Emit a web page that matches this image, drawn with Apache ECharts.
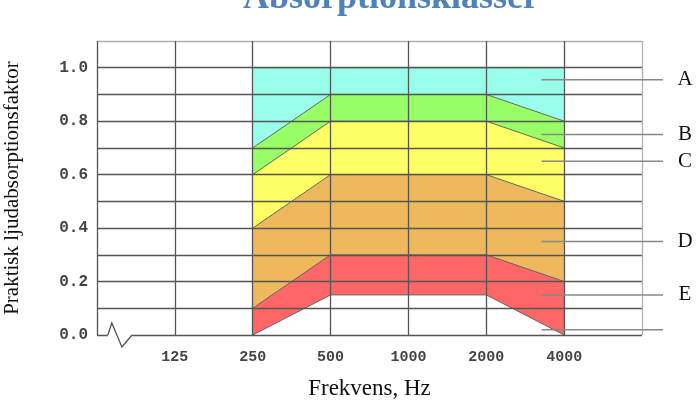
<!DOCTYPE html>
<html>
<head>
<meta charset="utf-8">
<script src="https://cdn.jsdelivr.net/npm/echarts@6/dist/echarts.min.js"></script>
<style>
  html, body { margin: 0; padding: 0; background: #fff; }
  #chart { width: 696px; height: 407px; }
</style>
</head>
<body>
<div id="chart"></div>
<script>
// tick labels along x (positions 0..7, 125 at 1 ... 4000 at 6)
var xTicks = ['', '125', '250', '500', '1000', '2000', '4000', '']
// band boundaries at 250, 500, 1000, 2000, 4000
var bandX = [2, 3, 4, 5, 6]
var eLow = [0, 0.15, 0.15, 0.15, 0]
var eTop = [0.1, 0.3, 0.3, 0.3, 0.2]
var dTop = [0.4, 0.6, 0.6, 0.6, 0.5]
var cTop = [0.6, 0.8, 0.8, 0.8, 0.7]
var bTop = [0.7, 0.9, 0.9, 0.9, 0.8]
var aTop = [1.0, 1.0, 1.0, 1.0, 1.0]
// class labels on the right and where their leader lines point
var classNames = ['A', 'B', 'C', 'D', 'E', '']
var classLevels = [0.955, 0.75, 0.65, 0.35, 0.15, 0.02]

// painted back to front: each band is filled down to 0, the next one covers it
var bands = [
    { name: 'A', hi: aTop, color: '#99ffea' },
    { name: 'B', hi: bTop, color: '#99ff66' },
    { name: 'C', hi: cTop, color: '#ffff66' },
    { name: 'D', hi: dTop, color: '#edb95c' },
    { name: 'E', hi: eTop, color: '#ff6666' },
    { name: 'base', hi: eLow, color: '#ffffff' }
]

var serif = '"Liberation Serif", "DejaVu Serif", serif'
var mono = '"Liberation Mono", "DejaVu Sans Mono", monospace'

var myChart = echarts.init(document.getElementById('chart'))

var series = bands.map(function (b) {
    return {
        name: b.name,
        type: 'line',
        symbol: 'none',
        z: 2,
        lineStyle: { color: '#666', width: 1 },
        areaStyle: { color: b.color, opacity: 1, origin: 'start' },
        data: b.hi.map(function (v, i) { return [bandX[i], v] })
    }
})

var yColors = []
for (var i = 0; i <= 11; i++) yColors.push(i === 11 ? '#b0b0b0' : '#555')
var xColors = []
for (var j = 0; j <= 7; j++) xColors.push(j === 7 ? '#b0b0b0' : '#555')

myChart.setOption({
    animation: false,
    title: {
        text: 'Absorptionsklasser',
        left: 386,
        top: -24,
        textAlign: 'center',
        textStyle: { fontFamily: serif, fontWeight: 'bold', fontSize: 36, color: '#4f81bd' }
    },
    grid: { left: 97, right: 54, top: 41, bottom: 72, outerBoundsMode: 'none' },
    xAxis: {
        type: 'value',
        min: 0,
        max: 7,
        interval: 1,
        z: 5,
        name: 'Frekvens, Hz',
        nameLocation: 'middle',
        nameGap: 42,
        nameTextStyle: { fontFamily: serif, fontSize: 23, color: '#111' },
        axisLine: { show: false },
        axisTick: { show: false },
        axisLabel: {
            margin: 15,
            fontFamily: mono,
            fontSize: 15,
            fontWeight: 'bold',
            color: '#444',
            formatter: function (v) { return xTicks[Math.round(v)] || '' }
        },
        splitLine: { show: true, lineStyle: { color: xColors, width: 1.3 } }
    },
    yAxis: {
        type: 'value',
        min: 0,
        max: 1.1,
        interval: 0.1,
        z: 5,
        name: 'Praktisk ljudabsorptionsfaktor',
        nameLocation: 'middle',
        nameGap: 74,
        nameTextStyle: { fontFamily: serif, fontSize: 21, color: '#111' },
        axisLine: { show: false },
        axisTick: { show: false },
        axisLabel: {
            margin: 9,
            fontFamily: mono,
            fontSize: 16,
            fontWeight: 'bold',
            color: '#444',
            formatter: function (v) {
                var k = Math.round(v * 10)
                return (k % 2 === 0 && k <= 10) ? (k / 10).toFixed(1) : ''
            }
        },
        splitLine: { show: true, lineStyle: { color: yColors, width: 1.3 } }
    },
    series: series
})

// axis break on the x axis near the origin, leader lines and class letters
function px(x, y) { return myChart.convertToPixel({ gridIndex: 0 }, [x, y]) }
var g = []
var b0 = px(0.14, 0), b1 = px(0.45, 0)
g.push({
    type: 'line', z: 10,
    shape: { x1: b0[0], y1: b0[1], x2: b1[0], y2: b1[1] },
    style: { stroke: '#fff', lineWidth: 4 }
})
var zz = [px(0.14, 0), px(0.19, 0.045), px(0.32, -0.045), px(0.45, 0)]
g.push({
    type: 'polyline', z: 11,
    shape: { points: zz },
    style: { stroke: '#555', lineWidth: 1.3, fill: null }
})
classLevels.forEach(function (lv, i) {
    var p0 = px(5.71, lv), p1 = px(7.27, lv)
    g.push({
        type: 'line', z: 10,
        shape: { x1: p0[0], y1: p0[1], x2: p1[0], y2: p1[1] },
        style: { stroke: '#888', lineWidth: 1.5 }
    })
    if (classNames[i]) {
        g.push({
            type: 'text', z: 10,
            style: {
                text: classNames[i], x: p1[0] + 22, y: p1[1],
                textAlign: 'center', textVerticalAlign: 'middle',
                font: '21px ' + serif, fill: '#111'
            }
        })
    }
})
myChart.setOption({ graphic: g })
</script>
</body>
</html>
